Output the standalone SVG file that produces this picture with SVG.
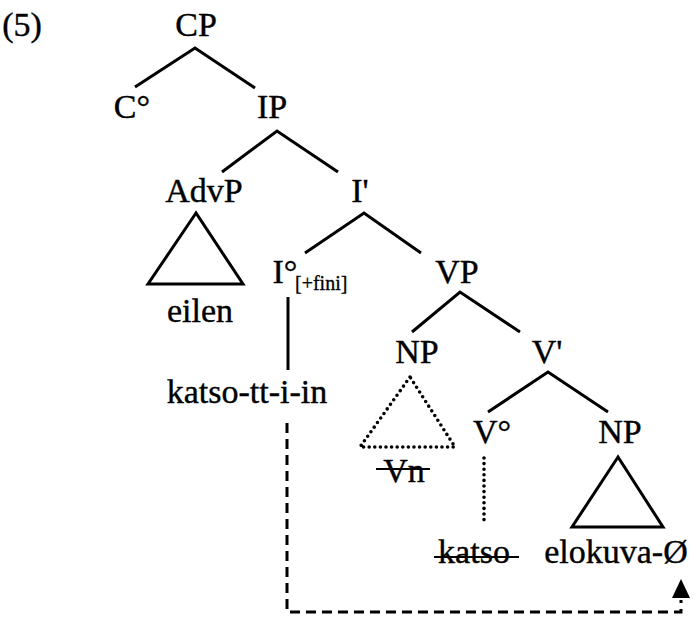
<svg xmlns="http://www.w3.org/2000/svg" width="694" height="626" viewBox="0 0 694 626">
<style>
text{font-family:"Liberation Serif","Times New Roman",serif;font-size:34px;fill:#000;stroke:#000;stroke-width:0.4;text-anchor:middle}
.sub{font-size:20px;text-anchor:start;stroke-width:0.3}
.l{stroke:#000;stroke-width:3;fill:none;stroke-linecap:butt}
.dot{stroke:#000;stroke-width:3.6;fill:none;stroke-dasharray:0 5.6;stroke-linecap:round;stroke-linejoin:round}
.dash{stroke:#000;stroke-width:3;fill:none;stroke-dasharray:10 6}
.strike{stroke:#000;stroke-width:2}
</style>
<text x="22" y="36">(5)</text>
<g id="CP"><text x="196" y="36">CP</text></g>
<g id="C0"><text x="132" y="118">C°</text></g>
<g id="IP"><text x="272" y="118">IP</text></g>
<g id="AdvP"><text x="204" y="202">AdvP</text>
<polygon class="l" points="196,213 148,284 243,284"/>
<text x="200" y="322">eilen</text></g>
<g id="Ibar"><text x="360" y="202">I'</text></g>
<g id="I0"><text x="285" y="283">I°</text><text class="sub" x="295" y="290">[+fini]</text></g>
<g id="katsottiin"><text x="247" y="403">katso-tt-i-in</text></g>
<g id="VP"><text x="457" y="283">VP</text></g>
<g id="NP1"><text x="417" y="363">NP</text>
<polygon class="dot" points="410,377 360,447 455,447"/>
<text x="404" y="482">Vn</text>
<line class="strike" x1="376" y1="469" x2="430" y2="469"/></g>
<g id="Vbar"><text x="547" y="363">V'</text></g>
<g id="V0"><text x="492" y="443">V°</text></g>
<g id="katso"><text x="474" y="563">katso</text>
<line class="strike" x1="434" y1="557" x2="519" y2="557"/></g>
<g id="NP2"><text x="620" y="443">NP</text>
<polygon class="l" points="618,457 572,527 663,527"/>
<text x="616" y="563">elokuva-Ø</text></g>
<g id="connectors">
<polyline class="l" points="135,87 195,48 255,88"/>
<polyline class="l" points="222,172 277,131 338,172"/>
<polyline class="l" points="305,253 364,213 421,253"/>
<line class="l" x1="288" y1="297" x2="288" y2="370"/>
<polyline class="l" points="412,332 460,292 520,332"/>
<polyline class="l" points="488,412 548,372 608,412"/>
<line class="dot" x1="484" y1="458" x2="484" y2="523"/>
<polyline class="dash" points="287,423 287,612 681,612 681,600"/>
<polygon points="681,579 672,598 690,598" fill="#000"/>
</g>
</svg>
